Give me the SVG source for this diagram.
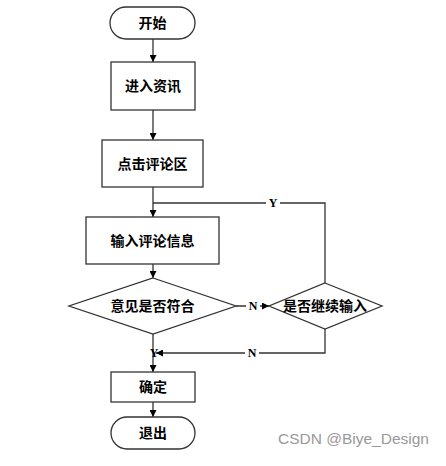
<svg xmlns="http://www.w3.org/2000/svg" width="446" height="466" viewBox="0 0 446 466">
<style>
.s{fill:#fff;stroke:#333;stroke-width:1.3}
.t{font-family:"Liberation Sans","Noto Sans CJK SC",sans-serif;font-size:14px;font-weight:bold;fill:#000;text-anchor:middle;dominant-baseline:central}
.c{fill:none;stroke:#333;stroke-width:1.3}
.l{font-family:"Liberation Serif",serif;font-size:12px;font-weight:bold;fill:#000;text-anchor:middle;dominant-baseline:central}
</style>
<defs>
<marker id="a" viewBox="0 0 10 10" refX="10" refY="5" markerWidth="7" markerHeight="7" markerUnits="userSpaceOnUse" orient="auto"><path d="M0,0L10,5L0,10z" fill="#000"/></marker>
</defs>
<rect width="446" height="466" fill="#fff"/>
<g id="connectors">
<path class="c" d="M153,39V62" marker-end="url(#a)"/>
<path class="c" d="M153,110V140" marker-end="url(#a)"/>
<path class="c" d="M153,187V217" marker-end="url(#a)"/>
<path class="c" d="M153,264V278" marker-end="url(#a)"/>
<path class="c" d="M236,306H269" marker-end="url(#a)"/>
<path class="c" d="M325,283V203H153"/>
<path class="c" d="M325,329V353H156" marker-end="url(#a)"/>
<path class="c" d="M153,334V372" marker-end="url(#a)"/>
<path class="c" d="M153,402V417" marker-end="url(#a)"/>
<rect x="266" y="197" width="14" height="12" fill="#fff"/>
<text class="l" x="273" y="203">Y</text>
<rect x="246" y="300" width="14" height="12" fill="#fff"/>
<text class="l" x="253" y="306">N</text>
<rect x="245" y="347" width="14" height="12" fill="#fff"/>
<text class="l" x="252" y="353">N</text>
<text class="l" x="154" y="353">Y</text>
</g>
<g id="start"><rect class="s" x="110" y="7" width="85" height="32" rx="16"/><text class="t" x="152.5" y="23">开始</text></g>
<g id="n1"><rect class="s" x="111" y="62" width="84" height="48"/><text class="t" x="153" y="86">进入资讯</text></g>
<g id="n2"><rect class="s" x="102" y="140" width="101" height="47"/><text class="t" x="152.5" y="163.5">点击评论区</text></g>
<g id="n3"><rect class="s" x="86" y="217" width="133" height="47"/><text class="t" x="152.5" y="240.5">输入评论信息</text></g>
<g id="d1"><path class="s" d="M153,278L236,306L153,334L69,306Z"/><text class="t" x="152.5" y="306">意见是否符合</text></g>
<g id="d2"><path class="s" d="M325,283L382,306L325,329L269,306Z"/><text class="t" x="325" y="306">是否继续输入</text></g>
<g id="n4"><rect class="s" x="111" y="372" width="84" height="30"/><text class="t" x="153" y="387">确定</text></g>
<g id="end"><rect class="s" x="111" y="417" width="84" height="32" rx="16"/><text class="t" x="153" y="433">退出</text></g>
<text x="278" y="444" font-family="Liberation Sans,sans-serif" font-size="15.5" fill="#999">CSDN @Biye_Design</text>
</svg>
